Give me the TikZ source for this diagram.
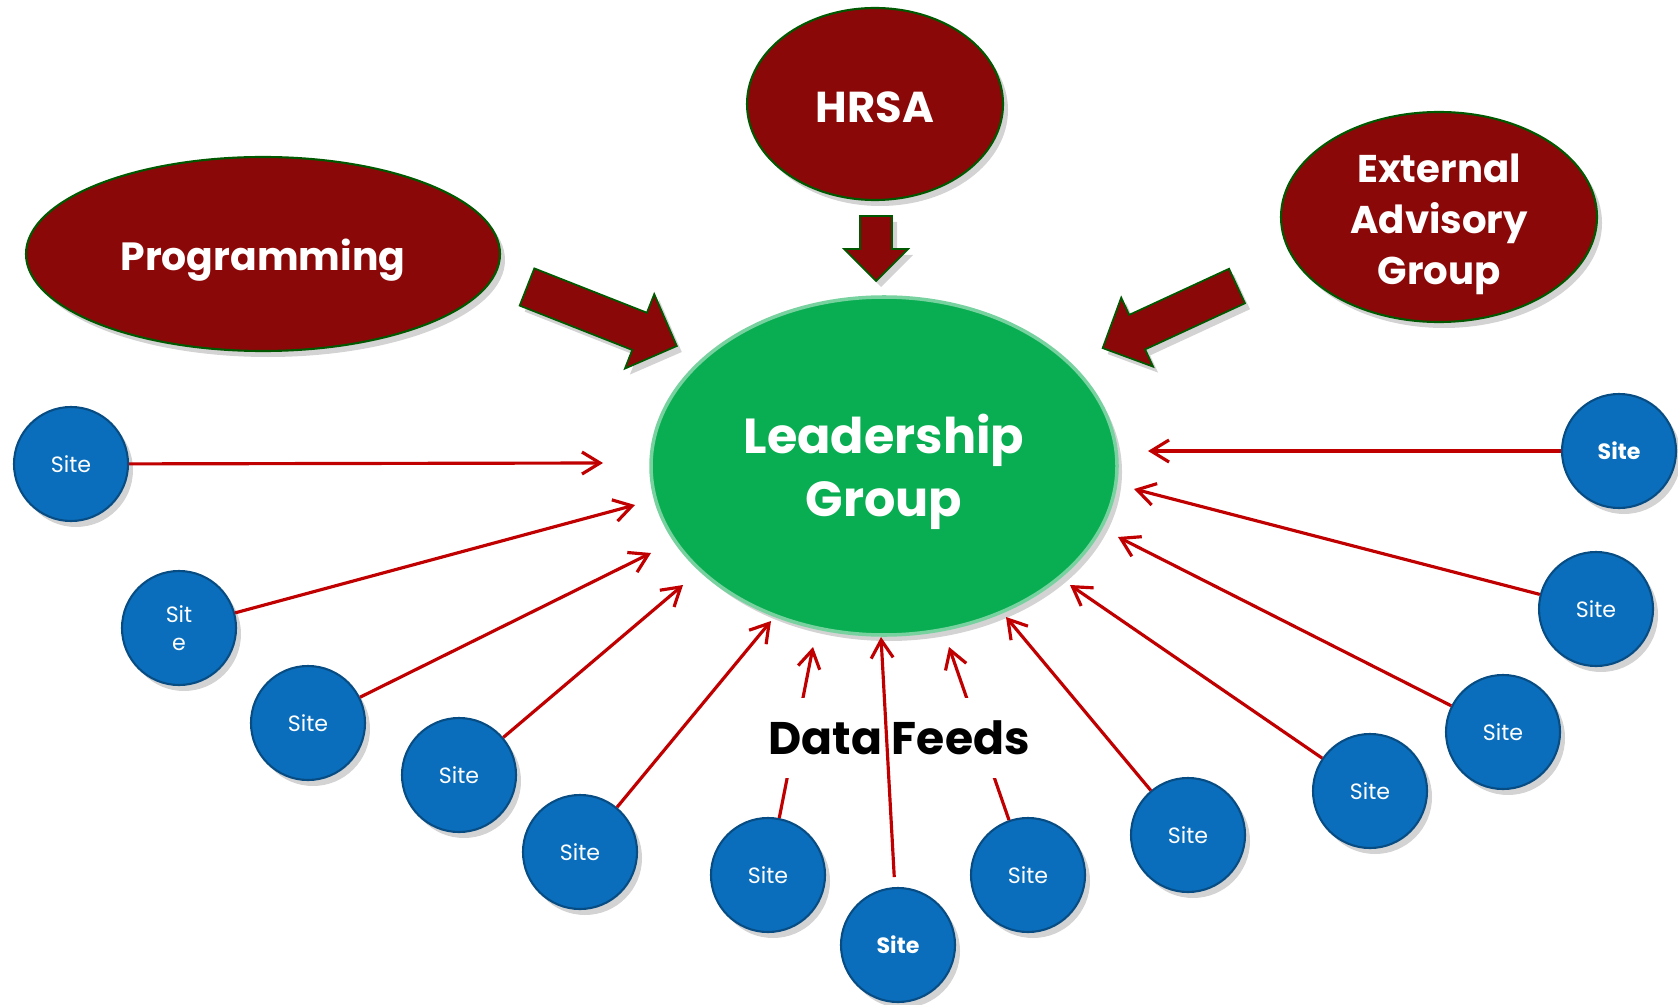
\documentclass[tikz,border=0pt]{standalone}
\usepackage{fontspec}
\setmainfont{Poppins}
\usetikzlibrary{arrows.meta,shapes.geometric,shadows}

\definecolor{hubred}{RGB}{139,8,8}
\definecolor{hubgreen}{RGB}{10,174,82}
\definecolor{siteblue}{RGB}{10,110,188}
\definecolor{feedred}{RGB}{192,0,0}

% fat arrow: tail point, angle, length, half shaft width
\newcommand{\bigarrow}[4]{%
  \draw[blockarrow, shift={(#1)}, rotate=#2]
    (0,-#4) -- ({#3-2*#4},-#4) -- ({#3-2*#4},-2*#4) -- (#3,0)
    -- ({#3-2*#4},2*#4) -- ({#3-2*#4},#4) -- (0,#4) -- cycle;}

\tikzset{
  softshadow/.style={drop shadow={opacity=0.35,shadow xshift=0.05cm,shadow yshift=-0.06cm}},
  partner/.style={ellipse, fill=hubred, draw=green!35!black, line width=0.6pt,
    inner sep=0pt, softshadow},
  leader/.style={ellipse, fill=hubgreen, draw=hubgreen!55!white, line width=1pt,
    inner sep=0pt, softshadow},
  bigtext/.style={text=white, align=center, inner sep=0pt},
  site/.style={circle, fill=siteblue, draw=siteblue!70!black, line width=0.6pt,
    minimum size=1.14cm, inner sep=0pt, text=white, align=center, softshadow,
    font=\fontsize{6.3}{8}\selectfont},
  feed/.style={draw=feedred, line width=0.9pt,
    -{Straight Barb[length=0.18cm,width=0.22cm]}},
  blockarrow/.style={fill=hubred, draw=green!35!black, line width=0.5pt, softshadow}
}

\begin{document}
\begin{tikzpicture}
\useasboundingbox (0,0) rectangle (16.78,10.04);

% partners and hub
\node[partner, minimum width=4.74cm, minimum height=1.94cm] (prog) at (2.63,7.50) {};
\node[partner, minimum width=2.56cm, minimum height=1.92cm] (hrsa) at (8.75,9.00) {};
\node[partner, minimum width=3.16cm, minimum height=2.10cm] (ext) at (14.39,7.87) {};
\node[leader, minimum width=4.66cm, minimum height=3.38cm] (lead) at (8.84,5.38) {};

\node[bigtext, font=\bfseries\fontsize{11.2}{14}\selectfont] (progtext)
  at ([yshift=-0.06cm]prog.center) {Programming};
\node[bigtext, font=\bfseries\fontsize{12.3}{14}\selectfont] (hrsatext)
  at ([yshift=-0.03cm]hrsa.center) {HRSA};
\node[bigtext, font=\bfseries\fontsize{11}{14.5}\selectfont] (exttext)
  at ([yshift=-0.07cm]ext.center) {External\\Advisory\\Group};
\node[bigtext, font=\bfseries\fontsize{14}{17.9}\selectfont] (leadtext)
  at ([yshift=-0.06cm]lead.center) {Leadership\\Group};

\bigarrow{5.27,7.17}{-21.5}{1.61}{0.20}
\bigarrow{8.76,7.88}{-90}{0.65}{0.16}
\bigarrow{12.37,7.18}{204.8}{1.48}{0.19}

% sites
\node[site] (s1) at (0.71,5.40) {Site};
\node[site] (s2) at (1.79,3.76) {Sit\\e};
\node[site] (s3) at (3.08,2.81) {Site};
\node[site] (s4) at (4.59,2.29) {Site};
\node[site] (s5) at (5.80,1.52) {Site};
\node[site] (s6) at (7.68,1.29) {Site};
\node[site, font=\bfseries\fontsize{6.3}{8}\selectfont] (s7) at (8.98,0.59) {Site};
\node[site] (s8) at (10.28,1.29) {Site};
\node[site] (s9) at (11.88,1.69) {Site};
\node[site] (s10) at (13.70,2.13) {Site};
\node[site] (s11) at (15.03,2.72) {Site};
\node[site] (s12) at (15.96,3.95) {Site};
\node[site, font=\bfseries\fontsize{6.3}{8}\selectfont] (s13) at (16.19,5.53) {Site};

% arrow tips near the hub
\coordinate (t1) at (6.03,5.41);
\coordinate (t2) at (6.35,4.99);
\coordinate (t3) at (6.51,4.51);
\coordinate (t4) at (6.83,4.19);
\coordinate (t5) at (7.71,3.83);
\coordinate (t6) at (8.13,3.57);
\coordinate (t7) at (8.81,3.67);
\coordinate (t8) at (9.49,3.57);
\coordinate (t9) at (10.06,3.87);
\coordinate (t10) at (10.70,4.19);
\coordinate (t11) at (11.18,4.67);
\coordinate (t12) at (11.34,5.15);
\coordinate (t13) at (11.48,5.53);

\foreach \i in {1,2,3,4,5,6,8,9,10,11,12,13}
  \draw[feed] (s\i) -- (t\i);

\node[fill=white, inner xsep=2pt, minimum height=0.8cm,
      font=\bfseries\fontsize{13}{16}\selectfont] (feeds) at (8.99,2.66) {Data Feeds};

\draw[feed, shorten <=0.1cm] (s7) -- (t7);
\end{tikzpicture}
\end{document}
